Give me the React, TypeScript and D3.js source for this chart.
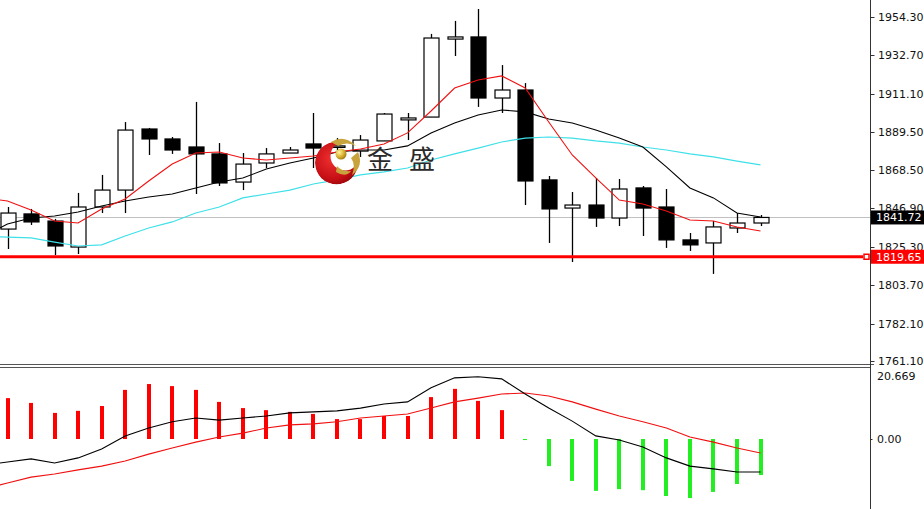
import React from "react";
import * as d3 from "d3";

// ---- Data ----
const opens = [1835.2, 1843.7, 1839.7, 1825.1, 1847.6, 1857.1, 1891.4, 1885.8, 1881.3, 1877.4, 1861.6, 1872.3, 1877.9, 1883.0, 1881.3, 1879.0, 1884.7, 1896.5, 1898.1, 1941.9, 1943.1, 1908.8, 1913.3, 1862.8, 1847.0, 1848.7, 1841.4, 1858.3, 1847.6, 1829.1, 1827.4, 1835.8, 1838.6];
const highs = [1847.6, 1846.5, 1840.9, 1855.5, 1865.6, 1895.3, 1892.0, 1886.9, 1906.6, 1883.5, 1877.9, 1880.7, 1881.3, 1900.4, 1886.3, 1888.0, 1900.4, 1900.4, 1944.8, 1952.1, 1958.8, 1927.3, 1917.2, 1865.0, 1856.0, 1863.9, 1863.3, 1859.4, 1857.7, 1833.0, 1839.7, 1844.2, 1843.1];
const lows = [1824.0, 1837.5, 1820.6, 1821.2, 1844.2, 1844.2, 1876.8, 1877.4, 1854.9, 1859.4, 1857.1, 1869.5, 1877.9, 1869.5, 1875.7, 1875.7, 1884.7, 1885.2, 1898.1, 1932.4, 1903.8, 1900.4, 1848.7, 1827.4, 1816.7, 1836.4, 1836.9, 1831.3, 1824.6, 1822.9, 1810.0, 1833.0, 1836.9];
const closes = [1844.2, 1839.2, 1825.7, 1847.6, 1857.1, 1890.8, 1885.8, 1879.6, 1877.4, 1861.1, 1871.7, 1877.4, 1879.6, 1880.7, 1881.9, 1885.2, 1899.8, 1897.6, 1942.5, 1943.1, 1908.8, 1913.3, 1862.2, 1846.5, 1848.7, 1841.4, 1857.7, 1847.0, 1829.1, 1826.3, 1836.4, 1838.6, 1841.72];

// moving averages: first value belongs to the bar just before the visible window
const maFast = [1852.7, 1851.0, 1845.9, 1839.7, 1838.6, 1846.5, 1852.1, 1862.2, 1871.7, 1877.9, 1878.5, 1875.1, 1874.0, 1875.1, 1876.2, 1878.5, 1880.2, 1883.0, 1889.2, 1901.5, 1914.4, 1918.9, 1921.2, 1914.4, 1895.3, 1876.8, 1863.9, 1851.5, 1849.3, 1845.3, 1840.3, 1839.7, 1836.4, 1834.1];
const maMid = [1831.3, 1838.0, 1841.4, 1842.5, 1844.8, 1848.2, 1851.0, 1853.2, 1854.9, 1858.3, 1861.6, 1863.9, 1868.9, 1872.3, 1875.1, 1878.5, 1879.6, 1879.6, 1881.9, 1889.2, 1894.8, 1899.3, 1902.1, 1901.0, 1897.0, 1894.8, 1890.8, 1886.3, 1881.3, 1870.1, 1858.3, 1852.7, 1844.2, 1842.0];
const maSlow = [1831.0, 1830.7, 1830.2, 1827.9, 1825.7, 1826.3, 1831.3, 1835.8, 1839.2, 1844.2, 1847.6, 1852.7, 1854.9, 1857.1, 1860.5, 1862.8, 1865.6, 1867.3, 1869.5, 1874.0, 1877.4, 1880.7, 1884.1, 1886.3, 1886.9, 1886.3, 1884.7, 1883.5, 1881.3, 1879.6, 1877.4, 1875.7, 1873.4, 1871.2];

const macdHist = [11.9, 10.5, 7.6, 8.2, 9.6, 14.3, 16.0, 15.4, 14.3, 10.8, 9.0, 8.4, 7.9, 7.3, 5.8, 5.8, 6.7, 6.7, 12.2, 14.6, 11.1, 8.4, -0.3, -7.9, -12.2, -15.1, -14.6, -14.9, -16.6, -17.2, -15.4, -13.1, -10.5];
const macdLine = [-7.6, -6.7, -5.8, -7.0, -5.5, -2.9, 0.9, 3.2, 5.0, 6.1, 5.5, 6.1, 6.7, 7.6, 7.9, 8.2, 9.0, 10.2, 10.8, 14.9, 17.8, 18.1, 17.5, 13.1, 9.0, 5.2, 0.9, -0.3, -2.3, -5.5, -7.9, -8.7, -9.6, -9.6];
const signalLine = [-14.6, -12.8, -11.1, -10.2, -9.0, -7.9, -6.4, -4.4, -2.6, -0.9, 0.6, 1.7, 3.2, 4.1, 4.4, 5.0, 6.1, 6.7, 7.3, 9.0, 10.8, 11.9, 13.1, 13.4, 12.5, 10.8, 8.7, 6.7, 5.0, 3.2, 0.6, -0.9, -2.6, -4.1];

const priceTicks = ["1954.30", "1932.70", "1911.10", "1889.50", "1868.50", "1846.90", "1825.30", "1803.70", "1782.10", "1761.10"];
const macdTicks = ["20.669", "0.00"];
const lastPrice = 1841.72;
const levelPrice = 1819.65;

const W = 924;
const H = 509;
const AXIS_X = 870.5;

export default function App() {
  const x = d3.scaleLinear().domain([0, 32]).range([7.5, 760.5]);
  const y = d3.scaleLinear().domain([1761.1, 1954.3]).range([361, 17]);
  const ym = d3.scaleLinear().domain([0, 20.669]).range([439, 368]);

  const lineP = (arr: number[]) =>
    d3.line<number>().x((_, i) => x(i - 1)).y((d) => y(d))(arr) || "";
  const lineM = (arr: number[]) =>
    d3.line<number>().x((_, i) => x(i - 1)).y((d) => ym(d))(arr) || "";

  const tickFont = { fontFamily: "DejaVu Sans, Verdana, sans-serif", fontSize: 11 };
  const bw = 15;

  return (
    <svg width={W} height={H} style={{ position: "absolute", left: 0, top: 0, background: "#fff" }}>
      <defs>
        <clipPath id="mainClip"><rect x={0} y={0} width={AXIS_X} height={364} /></clipPath>
        <clipPath id="macdClip"><rect x={0} y={368} width={AXIS_X} height={H - 368} /></clipPath>
        <radialGradient id="redG" cx="40%" cy="40%" r="70%">
          <stop offset="0%" stopColor="#f03030" />
          <stop offset="70%" stopColor="#c40e14" />
          <stop offset="100%" stopColor="#8a0508" />
        </radialGradient>
        <radialGradient id="goldG" cx="35%" cy="35%" r="70%">
          <stop offset="0%" stopColor="#fff4a0" />
          <stop offset="60%" stopColor="#d8b030" />
          <stop offset="100%" stopColor="#a07810" />
        </radialGradient>
        <mask id="crescentMask">
          <circle cx={336.5} cy={163} r={21.5} fill="#fff" />
          <circle cx={345} cy={156} r={14.5} fill="#000" />
        </mask>
      </defs>
      <rect x={0} y={0} width={W} height={H} fill="#fff" />

      {/* main panel */}
      <g clipPath="url(#mainClip)">
        <line x1={0} x2={AXIS_X} y1={Math.round(y(lastPrice)) + 0.5} y2={Math.round(y(lastPrice)) + 0.5} stroke="#c0c0c0" strokeWidth={1} />
        {opens.map((o, i) => {
          const c = closes[i];
          const cx = Math.round(x(i)) + 0.5;
          const top = y(Math.max(o, c));
          const bot = y(Math.min(o, c));
          const up = c >= o;
          return (
            <g key={i}>
              <line x1={cx} x2={cx} y1={y(highs[i])} y2={y(lows[i])} stroke="#000" strokeWidth={1.3} />
              <rect x={cx - bw / 2} y={top} width={bw} height={Math.max(bot - top, 1.5)} fill={up ? "#fff" : "#000"} stroke="#000" strokeWidth={1.2} />
            </g>
          );
        })}
        <path d={lineP(maSlow)} fill="none" stroke="#3ee0e8" strokeWidth={1.2} />
        <path d={lineP(maMid)} fill="none" stroke="#000" strokeWidth={1.1} />
        <path d={lineP(maFast)} fill="none" stroke="#f01010" strokeWidth={1.1} />
        <line x1={0} x2={863} y1={y(levelPrice)} y2={y(levelPrice)} stroke="#ff0000" strokeWidth={3} />
        <rect x={864} y={y(levelPrice) - 2.5} width={5} height={5} fill="#fff" stroke="#ff0000" strokeWidth={1.5} />
      </g>

      {/* logo */}
      <g>
        <circle cx={336.5} cy={163} r={21.5} fill="url(#redG)" mask="url(#crescentMask)" />
        <path d="M331,142 Q344,134 356,146 Q347,141 338,146 Z" fill="#c9a43c" />
        <path d="M358,152 Q364,166 352,175 Q356,165 351,158 Z" fill="#c9a43c" />
        <path d="M336,172 Q346,178 351,171 Q342,172 337,166 Z" fill="#c9a43c" />
        <circle cx={341} cy={154} r={5.5} fill="url(#goldG)" />
        <text x={367} y={169} fontFamily="Noto Sans CJK SC" fontSize={26} fill="#2a2a2a">金</text>
        <text x={409} y={169} fontFamily="Noto Sans CJK SC" fontSize={26} fill="#2a2a2a">盛</text>
      </g>

      {/* MACD panel */}
      <g clipPath="url(#macdClip)">
        {macdHist.map((v, i) => {
          const cx = Math.round(x(i));
          const y0 = ym(0);
          const y1 = ym(v);
          return (
            <rect key={i} x={cx - 2} width={4} y={Math.min(y0, y1)} height={Math.max(Math.abs(y1 - y0), 1)} fill={v >= 0 ? "#ff0000" : "#22ee22"} />
          );
        })}
        <path d={lineM(signalLine)} fill="none" stroke="#f01010" strokeWidth={1.1} />
        <path d={lineM(macdLine)} fill="none" stroke="#000" strokeWidth={1.1} />
      </g>

      {/* separators and axis */}
      <line x1={0} x2={874} y1={364.5} y2={364.5} stroke="#555" strokeWidth={1} />
      <line x1={0} x2={AXIS_X} y1={367.5} y2={367.5} stroke="#555" strokeWidth={1} />
      <line x1={AXIS_X} x2={AXIS_X} y1={0} y2={H} stroke="#333" strokeWidth={1} />

      {priceTicks.map((t) => {
        const ty = Math.round(y(+t)) + 0.5;
        return (
          <g key={t}>
            <line x1={AXIS_X} x2={AXIS_X + 4} y1={ty} y2={ty} stroke="#333" />
            <text x={878} y={ty} dy="0.36em" {...tickFont} fill="#111">{t}</text>
          </g>
        );
      })}

      <text x={877} y={376} dy="0.36em" {...tickFont} fill="#111">{macdTicks[0]}</text>
      <line x1={AXIS_X} x2={AXIS_X + 2} y1={ym(0) + 0.5} y2={ym(0) + 0.5} stroke="#333" />
      <text x={877} y={ym(0)} dy="0.36em" {...tickFont} fill="#111">{macdTicks[1]}</text>

      {/* price tags */}
      <rect x={871} y={y(lastPrice) - 7} width={53} height={14} fill="#000" />
      <text x={876} y={y(lastPrice)} dy="0.36em" {...tickFont} fill="#fff">{lastPrice.toFixed(2)}</text>
      <rect x={871} y={y(levelPrice) - 7} width={53} height={14} fill="#ff0000" />
      <text x={876} y={y(levelPrice)} dy="0.36em" {...tickFont} fill="#fff">{levelPrice.toFixed(2)}</text>
    </svg>
  );
}
